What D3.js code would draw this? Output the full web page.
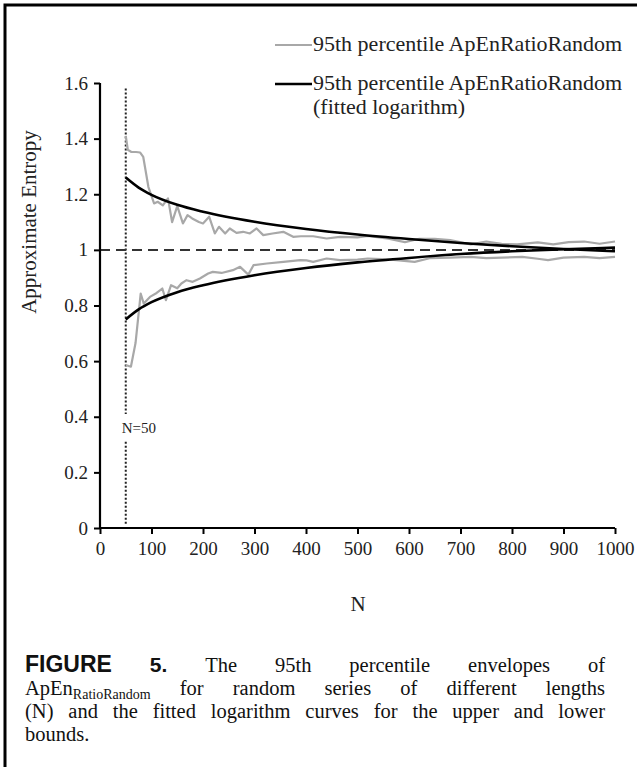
<!DOCTYPE html>
<html><head><meta charset="utf-8">
<script src="https://cdn.jsdelivr.net/npm/d3@7"></script>
<style>body{margin:0;background:#fff}svg{display:block}</style>
</head><body><svg id="c" width="637" height="767"></svg>
<script>
const xTicks = [0,100,200,300,400,500,600,700,800,900,1000];
const yTicks = [0,0.2,0.4,0.6,0.8,1,1.2,1.4,1.6];
const yTickLabels = ["0","0.2","0.4","0.6","0.8","1","1.2","1.4","1.6"];
// 95th percentile envelope (upper)
const upperN = [50,54,61,70,78,84,94,105,112,122,132,140,150,161,170,179,192,200,212,223,231,243,252,265,278,291,304,317,335,356,375,390,414,440,466,500,520,560,592,620,650,680,720,750,780,810,850,880,910,940,970,1000];
const upperV = [1.41,1.36,1.352,1.352,1.35,1.334,1.226,1.167,1.173,1.16,1.185,1.10,1.157,1.095,1.125,1.113,1.10,1.095,1.119,1.059,1.083,1.059,1.077,1.061,1.065,1.059,1.077,1.053,1.059,1.065,1.047,1.049,1.049,1.041,1.047,1.045,1.05,1.04,1.028,1.04,1.04,1.035,1.02,1.03,1.022,1.02,1.027,1.02,1.028,1.03,1.022,1.03];
// 95th percentile envelope (lower)
const lowerN = [50,60,69,79,85,97,110,121,128,138,150,158,168,180,194,210,219,236,258,272,288,298,324,356,389,401,414,440,466,500,520,560,611,640,680,720,750,780,820,850,870,900,940,970,1000];
const lowerV = [0.586,0.58,0.665,0.843,0.807,0.831,0.845,0.861,0.819,0.873,0.862,0.879,0.891,0.885,0.897,0.915,0.921,0.917,0.927,0.939,0.911,0.945,0.951,0.957,0.963,0.962,0.957,0.969,0.963,0.965,0.969,0.966,0.957,0.97,0.972,0.975,0.97,0.972,0.975,0.968,0.963,0.972,0.975,0.97,0.975];
// fitted logarithm curves
const fitN = [50,75,100,150,200,300,400,500,600,700,800,900,1000];
const fitUpper = [1.26,1.224,1.198,1.162,1.137,1.101,1.075,1.055,1.039,1.025,1.013,1.003,0.995];
const fitLower = [0.75,0.786,0.812,0.848,0.873,0.909,0.935,0.955,0.971,0.985,0.995,1.002,1.008];
const legendLabels = ["95th percentile ApEnRatioRandom","95th percentile ApEnRatioRandom","(fitted logarithm)"];

const svg = d3.select("#c");
const serif = "'Liberation Serif','Times New Roman',serif";
const x = d3.scaleLinear().domain([0,1000]).range([100,615]);
const y = d3.scaleLinear().domain([0,1.6]).range([528,83]);

// frame
svg.append("path").attr("d","M5,767 L5,5 L637,5").attr("fill","none").attr("stroke","#000").attr("stroke-width",3);

// dotted N=50 line
svg.append("line").attr("x1",x(50)).attr("x2",x(50)).attr("y1",y(1.58)).attr("y2",y(0.41))
  .attr("stroke","#222").attr("stroke-width",2).attr("stroke-dasharray","2,2");
svg.append("line").attr("x1",x(50)).attr("x2",x(50)).attr("y1",y(0.31)).attr("y2",y(0.015))
  .attr("stroke","#222").attr("stroke-width",2).attr("stroke-dasharray","2,2");
svg.append("text").attr("x",x(50)-4).attr("y",y(0.36)+5).attr("font-family",serif).attr("font-size",15)
  .attr("fill","#222").text("N=50");

// dashed 1.0
svg.append("line").attr("x1",x(0)).attr("x2",x(1000)).attr("y1",y(1)).attr("y2",y(1))
  .attr("stroke","#333").attr("stroke-width",2).attr("stroke-dasharray","10,6");

const line = d3.line().x(d=>x(d[0])).y(d=>y(d[1]));
const fline = d3.line().x(d=>x(d[0])).y(d=>y(d[1])).curve(d3.curveMonotoneX);
svg.append("path").attr("d",line(upperN.map((n,i)=>[n,upperV[i]]))).attr("fill","none").attr("stroke","#a8a8a8").attr("stroke-width",2.2).attr("stroke-linejoin","round");
svg.append("path").attr("d",line(lowerN.map((n,i)=>[n,lowerV[i]]))).attr("fill","none").attr("stroke","#a8a8a8").attr("stroke-width",2.2).attr("stroke-linejoin","round");
svg.append("path").attr("d",fline(fitN.map((n,i)=>[n,fitUpper[i]]))).attr("fill","none").attr("stroke","#000").attr("stroke-width",2.6);
svg.append("path").attr("d",fline(fitN.map((n,i)=>[n,fitLower[i]]))).attr("fill","none").attr("stroke","#000").attr("stroke-width",2.6);

// axes
const yAxis = svg.append("g").attr("transform","translate(100,0)")
  .call(d3.axisLeft(y).tickValues(yTicks).tickFormat((d,i)=>yTickLabels[i]).tickSize(6).tickPadding(6));
const xAxis = svg.append("g").attr("transform","translate(0,528)")
  .call(d3.axisBottom(x).tickValues(xTicks).tickFormat(d3.format("d")).tickSize(6).tickPadding(8));
[yAxis,xAxis].forEach(g=>{
  g.select(".domain").attr("stroke","#000").attr("stroke-width",2.2);
  g.selectAll(".tick line").attr("stroke","#000").attr("stroke-width",2);
  g.selectAll(".tick text").attr("font-family",serif).attr("font-size",19).attr("fill","#222");
});
yAxis.select(".domain").attr("d","M-0,528V83");
xAxis.select(".domain").attr("d","M100,0H615");

svg.append("text").attr("transform","translate(36,222) rotate(-90)").attr("text-anchor","middle")
  .attr("font-family",serif).attr("font-size",21).attr("fill","#222").text("Approximate Entropy");
svg.append("text").attr("x",358).attr("y",611).attr("text-anchor","middle")
  .attr("font-family",serif).attr("font-size",21).attr("fill","#222").text("N");

// legend
svg.append("line").attr("x1",275).attr("x2",312).attr("y1",45).attr("y2",45).attr("stroke","#a8a8a8").attr("stroke-width",2.2);
svg.append("line").attr("x1",275).attr("x2",312).attr("y1",84).attr("y2",84).attr("stroke","#000").attr("stroke-width",2.6);
[[45,0],[84,1],[108,2]].forEach(([yy,i])=>{
  svg.append("text").attr("x",313).attr("y",yy+6).attr("font-family",serif).attr("font-size",22)
    .attr("fill","#222").text(legendLabels[i]);
});

// caption (justified)
function justLine(words, yy, x0, x1, justify){
  const g = svg.append("g");
  const nodes = words.map(w=>{
    const t = g.append("text").attr("y",yy).attr("font-family",w.f||serif).attr("font-size",w.s||20.5)
      .attr("font-weight",w.b?"bold":"normal").attr("fill","#111");
    if(w.sub){ t.append("tspan").text(w.t); t.append("tspan").attr("font-size",14).attr("dy",4).text(w.sub); }
    else t.text(w.t);
    return t;
  });
  const widths = nodes.map(n=>n.node().getComputedTextLength());
  const total = d3.sum(widths);
  const gap = justify ? (x1-x0-total)/(words.length-1) : 5;
  let cx = x0;
  nodes.forEach((n,i)=>{ n.attr("x",cx); cx += widths[i]+gap; });
}
const sans = "'Liberation Sans',Arial,sans-serif";
justLine([{t:"FIGURE",f:sans,b:true,s:23},{t:"5.",f:sans,b:true,s:21},{t:"The"},{t:"95th"},{t:"percentile"},{t:"envelopes"},{t:"of"}],672,25,605,true);
justLine([{t:"ApEn",sub:"RatioRandom"},{t:"for"},{t:"random"},{t:"series"},{t:"of"},{t:"different"},{t:"lengths"}],695,25,605,true);
justLine([{t:"(N)"},{t:"and"},{t:"the"},{t:"fitted"},{t:"logarithm"},{t:"curves"},{t:"for"},{t:"the"},{t:"upper"},{t:"and"},{t:"lower"}],718,25,605,true);
justLine([{t:"bounds."}],741,25,605,false);
</script></body></html>
